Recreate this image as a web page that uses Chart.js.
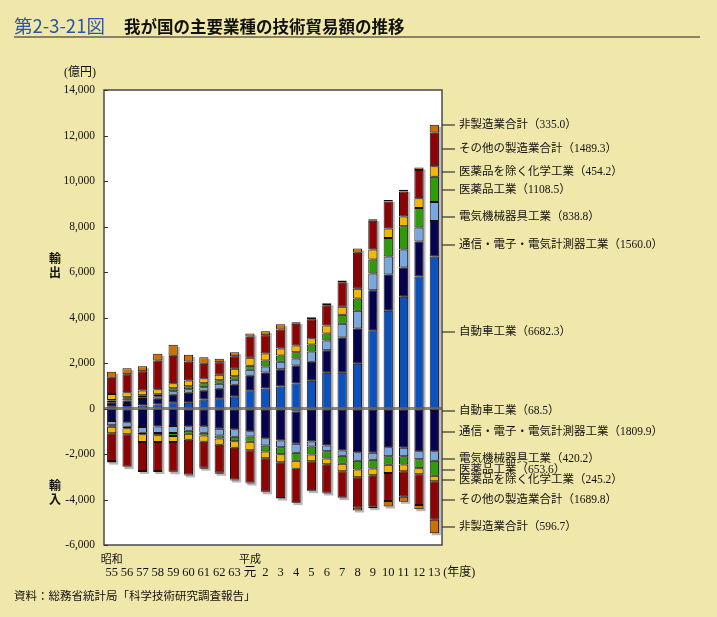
<!DOCTYPE html>
<html><head><meta charset="utf-8">
<script src="https://cdn.jsdelivr.net/npm/chart.js@4/dist/chart.umd.min.js"></script>
<style>
html,body{margin:0;padding:0;background:#F0E8AA;}
#wrap{position:relative;width:717px;height:617px;overflow:hidden;background:#F0E8AA;}
canvas{position:absolute;left:0;top:0;}
.t{position:absolute;white-space:nowrap;font-family:"Noto Sans CJK JP",sans-serif;}
</style></head><body>
<div id="wrap">
<canvas id="c" width="717" height="617"></canvas>
<div class="t" style="left:14px;top:13px;font-size:18.5px;color:#2A55A8;line-height:24px;">第2-3-21図</div>
<div class="t" style="left:124px;top:14px;font-size:16.5px;font-weight:bold;color:#111;line-height:24px;">我が国の主要業種の技術貿易額の推移</div>
<div style="position:absolute;left:14px;top:36px;width:686px;height:2px;background:#8A8263;"></div>
<div class="t" style="left:14px;top:586px;font-size:11.5px;color:#111;line-height:18px;">資料：総務省統計局「科学技術研究調査報告」</div>
</div>
<script>
// ---- data (億円) ----
const years = ['55','56','57','58','59','60','61','62','63','元','2','3','4','5','6','7','8','9','10','11','12','13'];
const industries = ['自動車工業','通信・電子・電気計測器工業','電気機械器具工業','医薬品工業','医薬品を除く化学工業','その他の製造業合計','非製造業合計'];
const yTicks = [-6000,-4000,-2000,0,2000,4000,6000,8000,10000,12000,14000];

// exports
const expAuto   = [100,150,130,176,278,249,396,454,542,806,879,967,1099,1216,1568,1568,1963,3443,4292,4908,5801,6682.3];
const expTele   = [180,200,293,249,322,440,381,410,498,630,703,762,791,835,996,1553,1553,1758,1597,1289,1538,1560.0];
const expElec   = [70,100,73,117,161,161,161,220,220,264,264,322,308,454,425,601,776,733,791,791,615,838.8];
const expPharma = [20,40,88,88,132,132,176,161,161,176,264,278,278,308,308,396,542,615,820,1026,864,1108.5];
const expChem   = [264,220,205,220,220,249,220,234,322,352,308,308,293,278,352,352,425,440,410,425,425,454.2];
const expOther  = [718,791,850,1260,1201,835,630,557,557,938,806,835,952,835,894,1084,1582,1260,1187,1099,1245,1489.3];
const expNonMfg = [264,264,220,293,483,293,293,146,176,132,176,234,73,88,88,73,190,73,73,73,103,335.0];

// imports
const impAuto   = [20,30,20,20,20,30,30,30,30,60,60,60,130,60,60,60,60,60,60,60,60,68.5];
const impTele   = [527,571,791,776,747,747,747,864,879,938,1245,1348,1421,1392,1568,1787,1860,1890,1641,1670,1817,1809.9];
const impElec   = [190,205,250,278,308,205,293,293,337,234,320,293,396,220,249,234,381,308,396,366,352,420.2];
const impPharma = [60,60,73,103,132,132,117,132,190,234,270,308,352,352,322,352,381,381,381,366,396,653.6];
const impChem   = [293,264,337,293,264,264,278,278,293,366,293,352,352,293,249,322,337,293,352,293,264,245.2];
const impOther  = [1216,1421,1275,1275,1304,1524,1143,1231,1392,1421,1470,1568,1465,1275,1260,1157,1348,1362,1231,1128,1348,1689.8];
const impNonMfg = [73,30,40,50,30,40,40,44,44,45,28,30,40,40,28,29,117,88,249,220,190,596.7];

// ---- styles ----
const colors = ['#0A52BE','#03034F','#78A8E0','#2E9C06','#F2B800','#8C0303','#CC7000'];
const exportSeries = [expAuto,expTele,expElec,expPharma,expChem,expOther,expNonMfg];
const importSeries = [impAuto,impTele,impElec,impPharma,impChem,impOther,impNonMfg];
const exportLabelY = [332,245,217,190,172,149,125];
const importLabelY = [411,432,459,470,480,500,527];

const datasets = [];
exportSeries.forEach((s,k)=>datasets.push({label:'輸出 '+industries[k],data:s,backgroundColor:colors[k],stack:'s'}));
importSeries.forEach((s,k)=>datasets.push({label:'輸入 '+industries[k],data:s.map(v=>-v),backgroundColor:colors[k],stack:'s'}));
datasets.forEach(d=>{d.borderColor='#1c0d0d';d.borderWidth=1;d.borderSkipped=false;d.barPercentage=0.6;d.categoryPercentage=1;});

const CJK = '"Noto Sans CJK JP", sans-serif';
const MIX = '"Liberation Serif", "Noto Sans CJK JP", serif';

const deco = {
  id:'deco',
  beforeDatasetsDraw(chart){
    const {ctx, chartArea:a} = chart;
    ctx.save();
    ctx.fillStyle='#fff';
    ctx.fillRect(a.left,a.top,a.right-a.left,a.bottom-a.top);
    const nExp = exportSeries.length, nAll = datasets.length;
    ctx.fillStyle='rgba(0,0,0,0.28)';
    for(let i=0;i<years.length;i++){
      const top = chart.getDatasetMeta(nExp-1).data[i];
      const bot = chart.getDatasetMeta(nAll-1).data[i];
      const w = top.width;
      ctx.fillRect(top.x-w/2+2, top.y+2, w, bot.y-top.y);
    }
    ctx.restore();
  },
  afterDatasetsDraw(chart){
    const {ctx, chartArea:a, scales:{x,y}} = chart;
    ctx.save();
    const y0 = y.getPixelForValue(0);
    ctx.strokeStyle='rgba(95,95,95,0.75)';
    ctx.lineWidth=3;
    ctx.beginPath();ctx.moveTo(a.left,y0);ctx.lineTo(a.right,y0);ctx.stroke();
    ctx.strokeStyle='#4a4a4a';ctx.lineWidth=1.5;
    ctx.strokeRect(a.left,a.top,a.right-a.left,a.bottom-a.top);
    ctx.lineWidth=1;ctx.strokeStyle='#333';
    yTicks.forEach(v=>{const py=Math.round(y.getPixelForValue(v))+0.5;ctx.beginPath();ctx.moveTo(a.left,py);ctx.lineTo(a.left+4,py);ctx.stroke();});
    ctx.fillStyle='#111';ctx.textBaseline='middle';ctx.textAlign='left';
    ctx.font='11.5px '+MIX;
    const drawLab=(ly,txt)=>{
      ctx.strokeStyle='#333';ctx.lineWidth=1.2;
      ctx.beginPath();ctx.moveTo(a.right,ly);ctx.lineTo(a.right+13,ly);ctx.stroke();
      ctx.fillText(txt,a.right+17,ly);
    };
    exportSeries.forEach((s,k)=>drawLab(exportLabelY[k], industries[k]+'（'+s[s.length-1].toFixed(1)+'）'));
    importSeries.forEach((s,k)=>drawLab(importLabelY[k], industries[k]+'（'+s[s.length-1].toFixed(1)+'）'));
    ctx.font='12px '+MIX;
    ctx.textAlign='center';
    ctx.fillText('(億円)',80,73);
    ctx.font='bold 12px '+CJK;
    const y6=y.getPixelForValue(6000), y4=y.getPixelForValue(-4000);
    ctx.fillText('輸',55,y6-14);ctx.fillText('出',55,y6);
    ctx.fillText('輸',55,y4-14);ctx.fillText('入',55,y4);
    ctx.font='11px '+CJK;
    ctx.fillText('昭和',x.getPixelForValue(0),559);
    ctx.fillText('平成',x.getPixelForValue(9),559);
    ctx.font='12px '+MIX;ctx.textAlign='left';
    ctx.fillText('(年度)',x.getPixelForValue(years.length-1)+9,573);
    ctx.restore();
  }
};

new Chart(document.getElementById('c'),{
  type:'bar',
  data:{labels:years,datasets},
  options:{
    responsive:false,animation:false,devicePixelRatio:1,
    layout:{padding:{left:0,top:90,right:275,bottom:32}},
    plugins:{legend:{display:false},tooltip:{enabled:false}},
    scales:{
      x:{stacked:true,grid:{display:false,drawTicks:false},border:{display:false},
         ticks:{color:'#111',font:{family:'"Liberation Serif", "Noto Sans CJK JP", serif',size:12.5},padding:20,autoSkip:false,maxRotation:0,minRotation:0},
         afterFit(s){s.height=40;}},
      y:{stacked:true,min:-6000,max:14000,grid:{display:false,drawTicks:false},border:{display:false},
         ticks:{stepSize:2000,color:'#111',padding:9,font:{family:'"Liberation Serif", serif',size:11.5},
                callback:v=>v.toLocaleString('en-US')},
         afterFit(s){s.width=104;}}
    }
  },
  plugins:[deco]
});
</script>
</body></html>
